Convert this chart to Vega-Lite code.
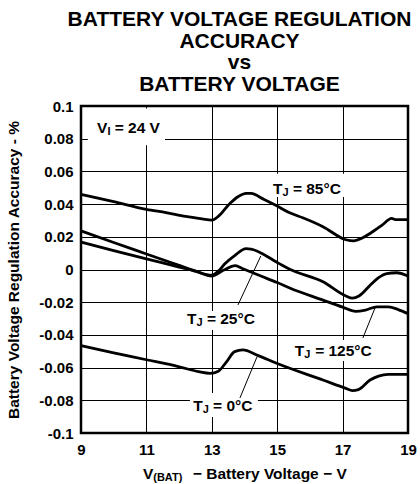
{
  "$schema": "https://vega.github.io/schema/vega-lite/v6.json",
  "width": 327,
  "height": 327,
  "autosize": {"type": "none"},
  "padding": {"left": 81, "top": 106, "right": 12, "bottom": 51},
  "background": "white",
  "config": {
    "view": {"stroke": "black", "strokeWidth": 2.5},
    "font": "Liberation Sans"
  },
  "title": {
    "text": ["BATTERY VOLTAGE REGULATION", "ACCURACY", "vs", "BATTERY VOLTAGE"],
    "font": "Liberation Sans",
    "fontSize": 21,
    "fontWeight": "bold",
    "color": "black",
    "lineHeight": 21.7,
    "anchor": "middle",
    "dx": -5,
    "offset": 4
  },
  "datasets": {
    "curves": [
      {"v": 9.0, "acc": 0.046, "t": "85"},
      {"v": 10.0, "acc": 0.0415, "t": "85"},
      {"v": 11.0, "acc": 0.0368, "t": "85"},
      {"v": 11.6, "acc": 0.0348, "t": "85"},
      {"v": 12.2, "acc": 0.0325, "t": "85"},
      {"v": 12.7, "acc": 0.031, "t": "85"},
      {"v": 13.0, "acc": 0.0302, "t": "85"},
      {"v": 13.2, "acc": 0.0325, "t": "85"},
      {"v": 13.56, "acc": 0.0405, "t": "85"},
      {"v": 13.8, "acc": 0.0445, "t": "85"},
      {"v": 14.05, "acc": 0.0466, "t": "85"},
      {"v": 14.2, "acc": 0.0465, "t": "85"},
      {"v": 14.6, "acc": 0.0428, "t": "85"},
      {"v": 15.0, "acc": 0.0388, "t": "85"},
      {"v": 15.4, "acc": 0.0345, "t": "85"},
      {"v": 15.8, "acc": 0.0315, "t": "85"},
      {"v": 16.4, "acc": 0.0262, "t": "85"},
      {"v": 17.1, "acc": 0.0182, "t": "85"},
      {"v": 17.35, "acc": 0.0175, "t": "85"},
      {"v": 17.6, "acc": 0.0192, "t": "85"},
      {"v": 17.85, "acc": 0.0222, "t": "85"},
      {"v": 18.2, "acc": 0.027, "t": "85"},
      {"v": 18.5, "acc": 0.0313, "t": "85"},
      {"v": 18.62, "acc": 0.0305, "t": "85"},
      {"v": 19.0, "acc": 0.0305, "t": "85"},

      {"v": 9.0, "acc": 0.0236, "t": "25"},
      {"v": 10.0, "acc": 0.0165, "t": "25"},
      {"v": 11.0, "acc": 0.0095, "t": "25"},
      {"v": 12.0, "acc": 0.0025, "t": "25"},
      {"v": 12.5, "acc": -0.001, "t": "25"},
      {"v": 13.0, "acc": -0.0035, "t": "25"},
      {"v": 13.2, "acc": -0.001, "t": "25"},
      {"v": 13.4, "acc": 0.0035, "t": "25"},
      {"v": 13.7, "acc": 0.0085, "t": "25"},
      {"v": 14.05, "acc": 0.0128, "t": "25"},
      {"v": 14.2, "acc": 0.0125, "t": "25"},
      {"v": 15.0, "acc": 0.0043, "t": "25"},
      {"v": 15.4, "acc": 0.0, "t": "25"},
      {"v": 16.4, "acc": -0.0075, "t": "25"},
      {"v": 17.1, "acc": -0.0162, "t": "25"},
      {"v": 17.3, "acc": -0.0175, "t": "25"},
      {"v": 17.5, "acc": -0.0162, "t": "25"},
      {"v": 17.85, "acc": -0.0095, "t": "25"},
      {"v": 18.1, "acc": -0.005, "t": "25"},
      {"v": 18.35, "acc": -0.0025, "t": "25"},
      {"v": 18.65, "acc": -0.002, "t": "25"},
      {"v": 19.0, "acc": -0.004, "t": "25"},

      {"v": 9.0, "acc": 0.0168, "t": "125"},
      {"v": 10.0, "acc": 0.0115, "t": "125"},
      {"v": 11.0, "acc": 0.0065, "t": "125"},
      {"v": 12.0, "acc": 0.0015, "t": "125"},
      {"v": 12.5, "acc": -0.001, "t": "125"},
      {"v": 13.0, "acc": -0.004, "t": "125"},
      {"v": 13.35, "acc": -0.0005, "t": "125"},
      {"v": 13.72, "acc": 0.0024, "t": "125"},
      {"v": 13.95, "acc": 0.0005, "t": "125"},
      {"v": 14.5, "acc": -0.004, "t": "125"},
      {"v": 15.0, "acc": -0.008, "t": "125"},
      {"v": 15.4, "acc": -0.0115, "t": "125"},
      {"v": 16.4, "acc": -0.0187, "t": "125"},
      {"v": 17.0, "acc": -0.023, "t": "125"},
      {"v": 17.4, "acc": -0.0256, "t": "125"},
      {"v": 17.7, "acc": -0.0248, "t": "125"},
      {"v": 18.05, "acc": -0.0228, "t": "125"},
      {"v": 18.4, "acc": -0.0229, "t": "125"},
      {"v": 18.7, "acc": -0.0245, "t": "125"},
      {"v": 19.0, "acc": -0.027, "t": "125"},

      {"v": 9.0, "acc": -0.0465, "t": "0"},
      {"v": 10.0, "acc": -0.051, "t": "0"},
      {"v": 11.0, "acc": -0.0552, "t": "0"},
      {"v": 12.0, "acc": -0.0595, "t": "0"},
      {"v": 12.6, "acc": -0.0625, "t": "0"},
      {"v": 12.95, "acc": -0.0635, "t": "0"},
      {"v": 13.2, "acc": -0.0622, "t": "0"},
      {"v": 13.45, "acc": -0.0565, "t": "0"},
      {"v": 13.7, "acc": -0.0502, "t": "0"},
      {"v": 13.95, "acc": -0.0492, "t": "0"},
      {"v": 14.4, "acc": -0.0525, "t": "0"},
      {"v": 15.0, "acc": -0.0575, "t": "0"},
      {"v": 16.4, "acc": -0.0676, "t": "0"},
      {"v": 17.1, "acc": -0.0727, "t": "0"},
      {"v": 17.3, "acc": -0.0741, "t": "0"},
      {"v": 17.48, "acc": -0.0735, "t": "0"},
      {"v": 17.84, "acc": -0.0676, "t": "0"},
      {"v": 18.1, "acc": -0.0652, "t": "0"},
      {"v": 18.4, "acc": -0.0642, "t": "0"},
      {"v": 19.0, "acc": -0.0642, "t": "0"}
    ],
    "leaders": [
      {"v": 13.8, "acc": -0.0217, "id": "25"},
      {"v": 14.5, "acc": 0.0083, "id": "25"},
      {"v": 17.62, "acc": -0.0419, "id": "125"},
      {"v": 17.99, "acc": -0.0236, "id": "125"},
      {"v": 13.86, "acc": -0.0786, "id": "0"},
      {"v": 14.38, "acc": -0.0535, "id": "0"}
    ],
    "boxes": [
      {"x1": 9.21, "x2": 11.57, "y1": 0.076, "y2": 0.0985},
      {"x1": 14.78, "x2": 17.1, "y1": 0.0443, "y2": 0.0585},
      {"x1": 12.15, "x2": 14.41, "y1": -0.037, "y2": -0.0254},
      {"x1": 12.33, "x2": 14.41, "y1": -0.0902, "y2": -0.0755},
      {"x1": 15.39, "x2": 18.05, "y1": -0.056, "y2": -0.0431}
    ],
    "labels": [
      {"v": 9.489, "acc": 0.0865, "text": "V", "kind": "main"},
      {"v": 9.81, "acc": 0.0865, "text": "I", "kind": "sub"},
      {"v": 10.03, "acc": 0.0865, "text": "= 24 V", "kind": "main"},
      {"v": 14.87, "acc": 0.0492, "text": "T", "kind": "main"},
      {"v": 15.16, "acc": 0.0492, "text": "J", "kind": "sub"},
      {"v": 15.48, "acc": 0.0492, "text": "= 85°C", "kind": "main"},
      {"v": 12.24, "acc": -0.0303, "text": "T", "kind": "main"},
      {"v": 12.53, "acc": -0.0303, "text": "J", "kind": "sub"},
      {"v": 12.85, "acc": -0.0303, "text": "= 25°C", "kind": "main"},
      {"v": 12.43, "acc": -0.0835, "text": "T", "kind": "main"},
      {"v": 12.72, "acc": -0.0835, "text": "J", "kind": "sub"},
      {"v": 13.04, "acc": -0.0835, "text": "= 0°C", "kind": "main"},
      {"v": 15.54, "acc": -0.0498, "text": "T", "kind": "main"},
      {"v": 15.83, "acc": -0.0498, "text": "J", "kind": "sub"},
      {"v": 16.16, "acc": -0.0498, "text": "= 125°C", "kind": "main"},
      {"v": 10.896, "acc": -0.1253, "text": "V", "kind": "main"},
      {"v": 11.21, "acc": -0.1253, "text": "(BAT)", "kind": "sub"},
      {"v": 12.42, "acc": -0.1253, "text": "− Battery Voltage − V", "kind": "main"}
    ]
  },
  "layer": [
    {
      "data": {"name": "boxes"},
      "mark": {"type": "rect", "fill": "white", "stroke": null},
      "encoding": {
        "x": {"field": "x1", "type": "quantitative",
          "scale": {"domain": [9, 19], "nice": false, "zero": false},
          "axis": {
            "values": [9, 11, 13, 15, 17, 19], "tickCount": 30, "format": "d",
            "grid": true, "gridColor": "black", "gridWidth": 1, "gridOpacity": 1,
            "ticks": false, "domain": false, "labelOverlap": false,
            "labelFont": "Liberation Sans", "labelFontSize": 15, "labelFontWeight": "bold",
            "labelColor": "black", "labelPadding": 9, "labelFlush": false,
            "title": null
          }
        },
        "x2": {"field": "x2"},
        "y": {"field": "y1", "type": "quantitative",
          "scale": {"domain": [-0.1, 0.1], "nice": false, "zero": false},
          "axis": {
            "values": [-0.1, -0.08, -0.06, -0.04, -0.02, 0, 0.02, 0.04, 0.06, 0.08, 0.1], "tickCount": 30,
            "labelExpr": "datum.value == 0 ? '0' : (datum.value < 0 ? '-' : '') + format(abs(datum.value), '.2~f')",
            "grid": true, "gridColor": "black", "gridWidth": 1, "gridOpacity": 1,
            "ticks": false, "domain": false, "labelOverlap": false,
            "labelFont": "Liberation Sans", "labelFontSize": 15, "labelFontWeight": "bold",
            "labelColor": "black", "labelPadding": 8, "labelFlush": false,
            "title": "Battery Voltage Regulation Accuracy - %",
            "titleFont": "Liberation Sans", "titleFontSize": 15.5, "titleFontWeight": "bold",
            "titleColor": "black", "titlePadding": 17
          }
        },
        "y2": {"field": "y2"}
      }
    },
    {
      "data": {"name": "curves"},
      "mark": {"type": "line", "color": "black", "strokeWidth": 2.8, "interpolate": "monotone"},
      "encoding": {
        "x": {"field": "v", "type": "quantitative"},
        "y": {"field": "acc", "type": "quantitative"},
        "detail": {"field": "t", "type": "nominal"}
      }
    },
    {
      "data": {"name": "leaders"},
      "mark": {"type": "line", "color": "black", "strokeWidth": 1},
      "encoding": {
        "x": {"field": "v", "type": "quantitative"},
        "y": {"field": "acc", "type": "quantitative"},
        "detail": {"field": "id", "type": "nominal"}
      }
    },
    {
      "data": {"name": "labels"},
      "transform": [{"filter": "datum.kind == 'main'"}],
      "mark": {"type": "text", "align": "left", "baseline": "middle", "font": "Liberation Sans",
        "fontSize": 15.5, "fontWeight": "bold", "color": "black"},
      "encoding": {
        "x": {"field": "v", "type": "quantitative"},
        "y": {"field": "acc", "type": "quantitative"},
        "text": {"field": "text"}
      }
    },
    {
      "data": {"name": "labels"},
      "transform": [{"filter": "datum.kind == 'sub'"}],
      "mark": {"type": "text", "align": "left", "baseline": "middle", "font": "Liberation Sans",
        "fontSize": 11, "fontWeight": "bold", "color": "black", "dy": 4},
      "encoding": {
        "x": {"field": "v", "type": "quantitative"},
        "y": {"field": "acc", "type": "quantitative"},
        "text": {"field": "text"}
      }
    }
  ]
}
